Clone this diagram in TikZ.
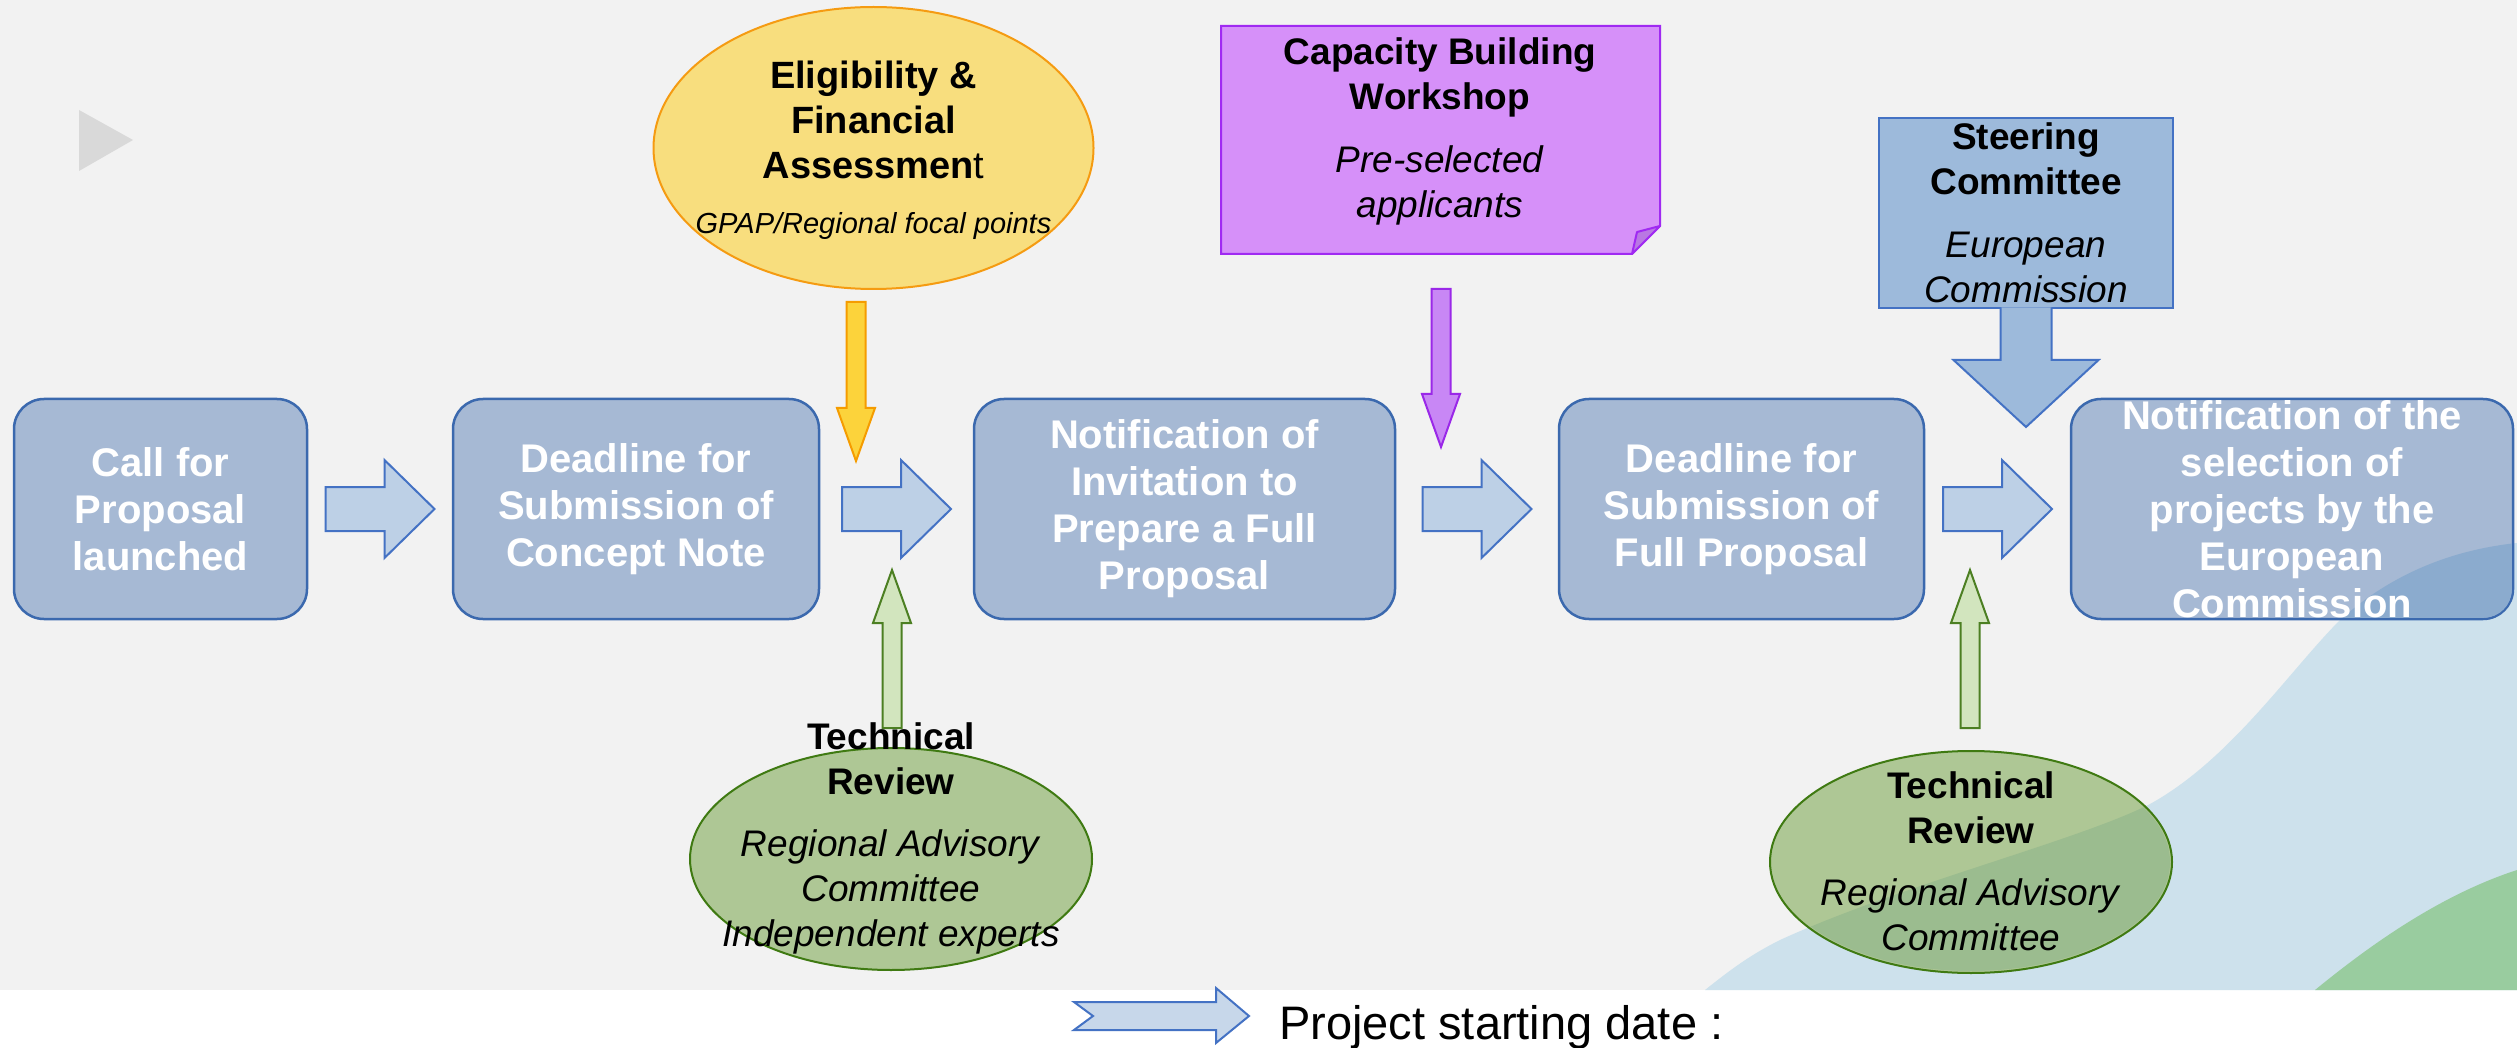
\documentclass[tikz,border=0pt]{standalone}
\usepackage{fontspec}
\setmainfont{Liberation Sans}
\usetikzlibrary{calc,shapes.geometric}

\definecolor{bggrey}{HTML}{F2F2F2}
\definecolor{boxfill}{HTML}{A6B9D4}
\definecolor{boxline}{HTML}{3B69AE}
\definecolor{flowfill}{HTML}{BDD0E6}
\definecolor{flowline}{HTML}{4472C4}
\definecolor{steerfill}{HTML}{9DBADB}
\definecolor{eligfill}{HTML}{F8DE7E}
\definecolor{eligline}{HTML}{F59B12}
\definecolor{eligarrfill}{HTML}{FCD33B}
\definecolor{eligarrline}{HTML}{F59C00}
\definecolor{workfill}{HTML}{D690F9}
\definecolor{workline}{HTML}{A02AF2}
\definecolor{workfold}{HTML}{B978E3}
\definecolor{workarrfill}{HTML}{C887F5}
\definecolor{workarrline}{HTML}{9A28E8}
\definecolor{techfill}{HTML}{AEC795}
\definecolor{techline}{HTML}{3F7A12}
\definecolor{techarrfill}{HTML}{D2E5BE}
\definecolor{techarrline}{HTML}{4C7F22}
\definecolor{wavefill}{HTML}{CDE1EC}
\definecolor{wavebox}{HTML}{8BABCE}
\definecolor{wavetech}{HTML}{9BBC8F}
\definecolor{hillfill}{HTML}{99CC9F}
\definecolor{playgrey}{HTML}{D9D9D9}

% decoration in the lower right corner
\newcommand{\bluewave}{(1705,990) .. controls (1730,970) and (1750,955) .. (1780,940)
  .. controls (1900,885) and (2080,840) .. (2150,804)
  .. controls (2230,760) and (2290,670) .. (2340,620)
  .. controls (2390,575) and (2450,550) .. (2517,543) -- (2517,990) -- cycle}
\newcommand{\greenhill}{(2315,990) .. controls (2370,945) and (2440,895) .. (2517,870) -- (2517,990) -- cycle}

% block arrow half way between two stages
\newcommand{\flowbetween}[2]{%
  \draw[flow] ($(#1.east)!0.5!(#2.west)$) ++(-54.5,-22) -- ++(59,0) -- ++(0,-27)
    -- ++(50,49) -- ++(-50,49) -- ++(0,-27) -- ++(-59,0) -- cycle;}
% thin vertical arrows: style, tail, shaft length
\newcommand{\downflow}[3]{%
  \draw[#1] (#2) ++(-9.5,0) -- ++(19,0) -- ++(0,#3) -- ++(9.5,0)
    -- ++(-19,53) -- ++(-19,-53) -- ++(9.5,0) -- cycle;}
\newcommand{\upflow}[3]{%
  \draw[#1] (#2) ++(-9.5,0) -- ++(19,0) -- ++(0,-#3) -- ++(9.5,0)
    -- ++(-19,-53) -- ++(-19,53) -- ++(9.5,0) -- cycle;}

\begin{document}
\begin{tikzpicture}[x=1pt,y=-1pt,
    stage/.style={draw=boxline, line width=2.5, fill=boxfill, rounded corners=30,
      minimum height=220, inner sep=0, text=white, align=center,
      font=\fontsize{40}{47}\selectfont\bfseries},
    stagetext/.style={inner sep=0, text=white, align=center,
      font=\fontsize{40}{47}\selectfont\bfseries},
    txt/.style={inner sep=0, align=center, font=\fontsize{37}{45}\selectfont},
    flow/.style={draw=flowline, line width=2, fill=flowfill},
    eligarr/.style={draw=eligarrline, line width=2, fill=eligarrfill},
    workarr/.style={draw=workarrline, line width=2, fill=workarrfill},
    techarr/.style={draw=techarrline, line width=2, fill=techarrfill},
    techell/.style={ellipse, draw=techline, line width=2, fill=techfill,
      minimum width=402, minimum height=222, inner sep=0}]
  \useasboundingbox (0,0) rectangle (2517,1048);
  \fill[bggrey] (0,0) rectangle (2517,990);
  \fill[white] (0,990) rectangle (2517,1048);
  \fill[wavefill] \bluewave;
  \fill[hillfill] \greenhill;
  \fill[playgrey] (79,110) -- (133,140) -- (79,171) -- cycle;

  % stages
  \node[stage, minimum width=293] (call) at (160.5,509) {Call for\\Proposal\\launched};
  \node[stage, minimum width=366] (cnote) at (636,509) {Deadline for\\Submission of\\Concept Note};
  \node[stage, minimum width=421] (invite) at (1184.5,509) {Notification of\\Invitation to\\Prepare a Full\\Proposal};
  \node[stage, minimum width=365] (fullprop) at (1741.5,509) {Deadline for\\Submission of\\Full Proposal};
  \node[stage, minimum width=442] (select) at (2292,509) {};
  \begin{scope}
    \clip[rounded corners=28] ($(select.south west)+(2.5,-2.5)$) rectangle ($(select.north east)+(-2.5,2.5)$);
    \fill[wavebox] \bluewave;
  \end{scope}
  \node[stagetext] (selecttext) at (select) {Notification of the\\selection of\\projects by the\\European\\Commission};

  \flowbetween{call}{cnote}
  \flowbetween{cnote}{invite}
  \flowbetween{invite}{fullprop}
  \flowbetween{fullprop}{select}

  % eligibility
  \node[ellipse, draw=eligline, line width=2, fill=eligfill, minimum width=440,
    minimum height=282, inner sep=0] (elig) at (873.5,148) {};
  \node[txt, font=\fontsize{38}{45}\selectfont] (eligtext) at (873.5,150)
    {\textbf{Eligibility \&}\\\textbf{Financial}\\\textbf{Assessmen}t\\[10pt]{\fontsize{29}{35}\selectfont\itshape GPAP/Regional focal points}};
  \coordinate (eligtail) at (856,302);
  \downflow{eligarr}{eligtail}{106}

  % workshop
  \draw[draw=workline, line width=2, fill=workfill] (1221,26) -- (1660,26) -- (1660,226)
    -- (1632,254) -- (1221,254) -- cycle;
  \draw[draw=workline, line width=2, fill=workfold, line join=round] (1660,226) -- (1637,232) -- (1632,254) -- cycle;
  \node[txt] (work) at (1440,131)
    {\textbf{Capacity Building}\\\textbf{Workshop}\\[18pt]\textit{Pre-selected}\\\textit{applicants}};
  \coordinate (worktail) at (1441,289);
  \downflow{workarr}{worktail}{105}

  % steering committee
  \node[txt, draw=flowline, line width=2, fill=steerfill, minimum width=294,
    minimum height=190] (steer) at (2026,213)
    {\textbf{Steering}\\\textbf{Committee}\\[18pt]\textit{European}\\\textit{Commission}};
  \filldraw[draw=flowline, line width=2, fill=steerfill] ($(steer.south)+(-25.5,-1.5)$)
    -- ++(0,52.5) -- ++(-47,0) -- ++(72.5,67) -- ++(72.5,-67) -- ++(-47,0) -- ++(0,-52.5);

  % technical reviews
  \node[techell] (tech1) at (891,859) {};
  \node[txt] (tech1text) at (891,838)
    {\textbf{Technical}\\\textbf{Review}\\[17pt]\textit{Regional Advisory}\\\textit{Committee}\\\textit{Independent experts}};
  \coordinate (tech1tail) at (892,728);
  \upflow{techarr}{tech1tail}{105}

  \node[techell] (tech2) at (1971,862) {};
  \begin{scope}
    \clip (tech2.center) ellipse [x radius=199, y radius=109];
    \fill[wavetech] \bluewave;
  \end{scope}
  \node[txt] (tech2text) at (1971,861)
    {\textbf{Technical}\\\textbf{Review}\\[17pt]\textit{Regional Advisory}\\\textit{Committee}};
  \coordinate (tech2tail) at (1970,728);
  \upflow{techarr}{tech2tail}{105}

  % legend
  \draw[flow, fill=flowfill!85!white] (1074,1002) -- (1216,1002) -- (1216,988) -- (1249,1016)
    -- (1216,1043) -- (1216,1030) -- (1074,1030) -- (1093,1016) -- cycle;
  \node[anchor=base west, inner sep=0, font=\fontsize{47}{52}\selectfont] (startdate)
    at (1279,1039) {Project starting date :};
\end{tikzpicture}
\end{document}
